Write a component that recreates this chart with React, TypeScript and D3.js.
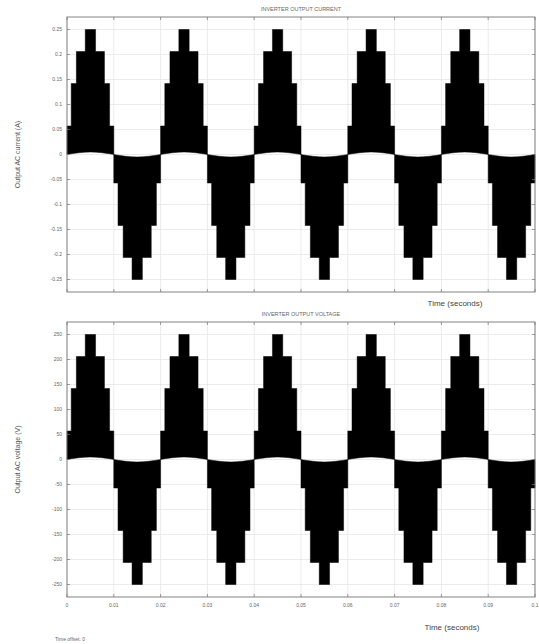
import React from 'react';
import * as d3 from 'd3';

// axis ticks
const timeTicks = [0, 0.01, 0.02, 0.03, 0.04, 0.05, 0.06, 0.07, 0.08, 0.09, 0.1];
const timeTickLabels = ['0', '0.01', '0.02', '0.03', '0.04', '0.05', '0.06', '0.07', '0.08', '0.09', '0.1'];
const currentTicks = [0.25, 0.2, 0.15, 0.1, 0.05, 0, -0.05, -0.1, -0.15, -0.2, -0.25];
const currentTickLabels = ['0.25', '0.2', '0.15', '0.1', '0.05', '0', '-0.05', '-0.1', '-0.15', '-0.2', '-0.25'];
const voltageTicks = [250, 200, 150, 100, 50, 0, -50, -100, -150, -200, -250];
const voltageTickLabels = ['250', '200', '150', '100', '50', '0', '-50', '-100', '-150', '-200', '-250'];

// half cycles of the 50 Hz output
const halfCycleStarts = [0, 0.01, 0.02, 0.03, 0.04, 0.05, 0.06, 0.07, 0.08, 0.09];
const halfCycleSigns = [1, -1, 1, -1, 1, -1, 1, -1, 1, -1];

// staircase envelope inside one half cycle (seconds from its start)
const stepEdges = [0, 0.0009, 0.002, 0.0039, 0.0061, 0.008, 0.0091, 0.01];
const currentSteps = [0.057, 0.142, 0.206, 0.25, 0.206, 0.142, 0.057];
const voltageSteps = [57, 142, 206, 250, 206, 142, 57];

// small ripple at the base of each half cycle
const rippleEdges = [0, 0.0025, 0.005, 0.0075, 0.01];
const currentRipple = [0, 0.0035, 0.005, 0.0035, 0];
const voltageRipple = [0, 3.5, 5, 3.5, 0];

const W = 539;
const H = 644;
const left = 67;
const right = 535;
const font = 'Liberation Sans, Arial, sans-serif';

type PanelProps = {
  top: number;
  bottom: number;
  domain: [number, number];
  ticks: number[];
  tickLabels: string[];
  steps: number[];
  ripple: number[];
  title: string;
  yLabel: string;
  showTimeLabels: boolean;
  xLabelPos: [number, number];
};

const Panel = ({ top, bottom, domain, ticks, tickLabels, steps, ripple, title, yLabel, showTimeLabels, xLabelPos }: PanelProps) => {
  const x = d3.scaleLinear().domain([0, 0.1]).range([left, right]);
  const y = d3.scaleLinear().domain(domain).range([bottom, top]);

  const stepLine = d3.line<[number, number]>()
    .x(d => x(d[0]))
    .y(d => y(d[1]))
    .curve(d3.curveStepAfter);

  const rippleLine = d3.line<[number, number]>()
    .x(d => x(d[0]))
    .y(d => y(d[1]))
    .curve(d3.curveCatmullRom);

  const blocks = halfCycleStarts.map((t0, k) => {
    const s = halfCycleSigns[k];
    const pts: [number, number][] = steps.map((v, i) => [t0 + stepEdges[i], s * v]);
    pts.push([t0 + stepEdges[stepEdges.length - 1], s * steps[steps.length - 1]]);
    const base: [number, number][] = rippleEdges
      .map((e, i) => [t0 + e, s * ripple[i]] as [number, number])
      .reverse();
    const upper = stepLine(pts) || '';
    const lower = (rippleLine(base) || '').replace(/^M/, 'L');
    return upper + lower + 'Z';
  });

  const midY = (top + bottom) / 2;

  return (
    <g>
      {/* grid */}
      {timeTicks.map((t, i) => (
        <line key={'gx' + i} x1={x(t)} x2={x(t)} y1={top} y2={bottom} stroke="#e2e2e2" strokeWidth={0.7} />
      ))}
      {ticks.map((v, i) => (
        <line key={'gy' + i} x1={left} x2={right} y1={y(v)} y2={y(v)} stroke="#e2e2e2" strokeWidth={0.7} />
      ))}

      {/* waveform */}
      {blocks.map((d, i) => (
        <path key={'b' + i} d={d} fill="#000" stroke="#000" strokeWidth={0.5} />
      ))}

      {/* box */}
      <rect x={left} y={top} width={right - left} height={bottom - top} fill="none" stroke="#777" strokeWidth={0.9} />

      {/* ticks */}
      {timeTicks.map((t, i) => (
        <g key={'tx' + i}>
          <line x1={x(t)} x2={x(t)} y1={bottom} y2={bottom - 3} stroke="#777" strokeWidth={0.7} />
          <line x1={x(t)} x2={x(t)} y1={top} y2={top + 3} stroke="#777" strokeWidth={0.7} />
          {showTimeLabels && (
            <text x={x(t)} y={bottom + 10} fontSize={5} fill="#666" textAnchor="middle" fontFamily={font}>
              {timeTickLabels[i]}
            </text>
          )}
        </g>
      ))}
      {ticks.map((v, i) => (
        <g key={'ty' + i}>
          <line x1={left} x2={left + 3} y1={y(v)} y2={y(v)} stroke="#777" strokeWidth={0.7} />
          <line x1={right} x2={right - 3} y1={y(v)} y2={y(v)} stroke="#777" strokeWidth={0.7} />
          <text x={left - 5} y={y(v) + 1.8} fontSize={5} fill="#666" textAnchor="end" fontFamily={font}>
            {tickLabels[i]}
          </text>
        </g>
      ))}

      {/* labels */}
      <text x={(left + right) / 2} y={top - 6} fontSize={5.5} fill="#666" textAnchor="middle" fontFamily={font}>
        {title}
      </text>
      <text
        transform={`translate(20,${midY}) rotate(-90)`}
        fontSize={7}
        fill="#555"
        textAnchor="middle"
        fontFamily={font}
      >
        {yLabel}
      </text>
      <text x={xLabelPos[0]} y={xLabelPos[1]} fontSize={8} fill="#444" textAnchor="middle" fontFamily={font}>
        Time (seconds)
      </text>
    </g>
  );
};

export default function App() {
  return (
    <svg width={W} height={H} style={{ position: 'absolute', left: 0, top: 0, background: '#fff' }}>
      <rect width={W} height={H} fill="#fff" />
      <Panel
        top={17}
        bottom={292}
        domain={[-0.275, 0.275]}
        ticks={currentTicks}
        tickLabels={currentTickLabels}
        steps={currentSteps}
        ripple={currentRipple}
        title="INVERTER OUTPUT CURRENT"
        yLabel="Output AC current (A)"
        showTimeLabels={false}
        xLabelPos={[455, 306]}
      />
      <Panel
        top={322}
        bottom={597}
        domain={[-275, 275]}
        ticks={voltageTicks}
        tickLabels={voltageTickLabels}
        steps={voltageSteps}
        ripple={voltageRipple}
        title="INVERTER OUTPUT VOLTAGE"
        yLabel="Output AC voltage (V)"
        showTimeLabels={true}
        xLabelPos={[452, 630]}
      />
      <text x={55} y={641} fontSize={5} fill="#666" fontFamily={font}>
        Time offset: 0
      </text>
    </svg>
  );
}
